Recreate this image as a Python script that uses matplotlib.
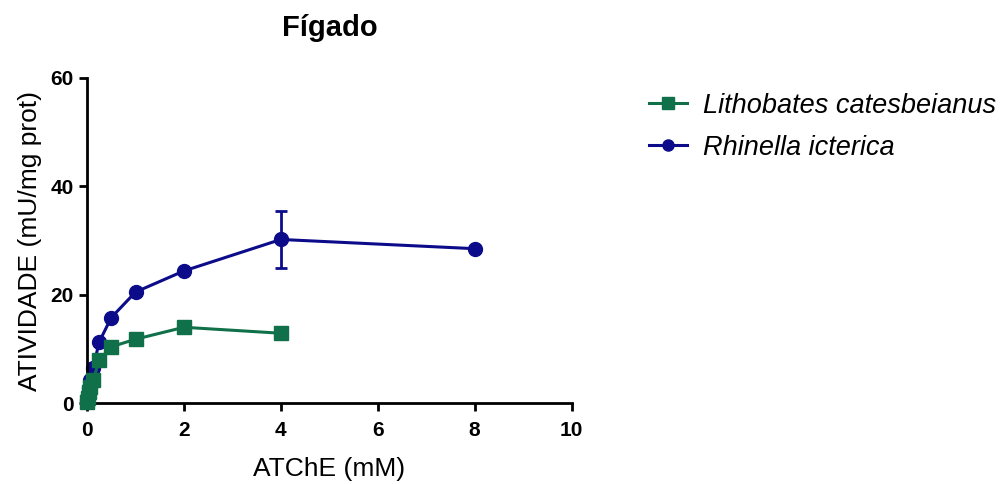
import numpy as np
from matplotlib import pyplot as plt

plt.rcParams['font.family'] = ['Liberation Sans', 'DejaVu Sans']

# ATChE concentrations (mM) and activity (mU/mg prot)
conc_lc = [0.0, 0.015625, 0.03125, 0.0625, 0.125, 0.25, 0.5, 1, 2, 4]
act_lc = [0.3, 1.0, 2.0, 3.0, 4.3, 7.9, 10.4, 11.8, 14.0, 12.9]

conc_ri = [0.0, 0.015625, 0.03125, 0.0625, 0.125, 0.25, 0.5, 1, 2, 4, 8]
act_ri = [0.5, 1.5, 2.8, 4.2, 6.5, 11.3, 15.8, 20.5, 24.4, 30.2, 28.5]
# only the 4 mM point has a visible SEM bar
err_x = [4]
err_y = [30.2]
err_ri = [5.2]

green = '#10704a'
navy = '#0c0c8a'

fig = plt.figure(figsize=(10.01, 4.84), dpi=100)
ax = fig.add_axes([0.087, 0.167, 0.484, 0.672])

ax.errorbar(err_x, err_y, yerr=err_ri, fmt='none', ecolor=navy,
            capsize=4.5, capthick=2, elinewidth=2, zorder=2, clip_on=False)
ax.plot(conc_ri, act_ri, color=navy, marker='o', markersize=10, lw=2.2,
        label='Rhinella icterica', zorder=2, clip_on=False)
ax.plot(conc_lc, act_lc, color=green, marker='s', markersize=10, lw=2.2,
        label='Lithobates catesbeianus', zorder=3, clip_on=False)

ax.set_xlim(0, 10)
ax.set_ylim(0, 60)
ax.set_xticks(np.arange(0, 11, 2))
ax.set_yticks(np.arange(0, 61, 20))
ax.spines['top'].set_visible(False)
ax.spines['right'].set_visible(False)
ax.spines['left'].set_linewidth(2)
ax.spines['bottom'].set_linewidth(2)
ax.tick_params(width=2, length=6, labelsize=15)
ax.tick_params(axis='x', pad=7)
for lab in ax.get_xticklabels() + ax.get_yticklabels():
    lab.set_fontweight('bold')

ax.set_xlabel('ATChE (mM)', fontsize=19, labelpad=12)
ax.set_ylabel('ATIVIDADE (mU/mg prot)', fontsize=19, labelpad=6)
ax.set_title('Fígado', fontsize=21, fontweight='bold', pad=30)

handles, labels = ax.get_legend_handles_labels()
leg = ax.legend(handles[::-1], labels[::-1], loc='upper left',
                bbox_to_anchor=(1.11, 1.03), frameon=False,
                handlelength=1.4, handletextpad=0.6, labelspacing=0.6,
                prop={'style': 'italic', 'size': 19.5})
for h in leg.legend_handles:
    h.set_markersize(8)

fig.savefig('out.png', dpi=100)
